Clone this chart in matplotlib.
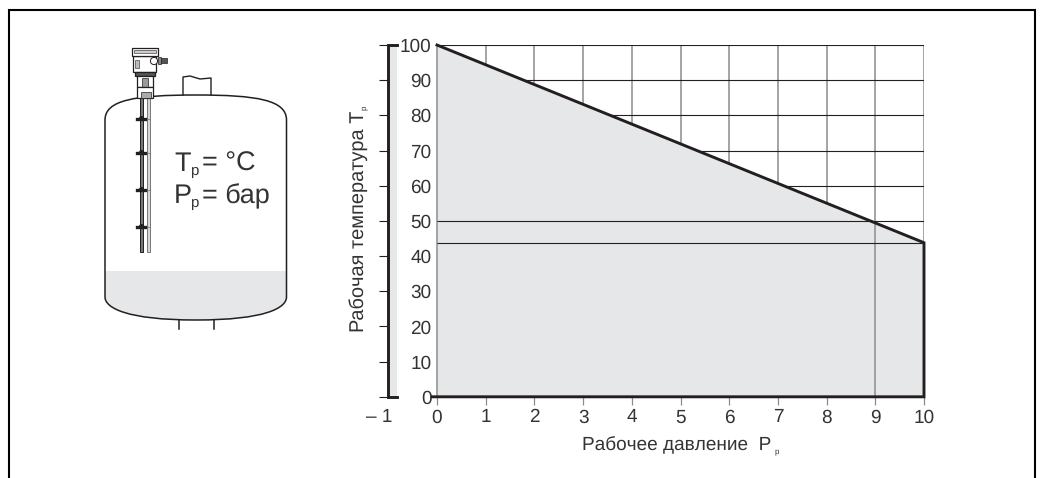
import matplotlib
matplotlib.use('Agg')
from matplotlib import pyplot as plt
from matplotlib.path import Path
from matplotlib.patches import PathPatch, Rectangle
from matplotlib.transforms import ScaledTranslation

plt.rcParams['font.family'] = ['Liberation Sans', 'DejaVu Sans']
plt.rcParams['text.hinting'] = 'none'
plt.rcParams['text.hinting_factor'] = 1

pressure_ticks = [-1, 0, 1, 2, 3, 4, 5, 6, 7, 8, 9, 10]
pressure_labels = ['– 1', '0', '1', '2', '3', '4', '5', '6', '7', '8', '9', '10']
temp_ticks = [0, 10, 20, 30, 40, 50, 60, 70, 80, 90, 100]
temp_labels = ['0', '10', '20', '30', '40', '50', '60', '70', '80', '90', '100']
limit_p = [0, 10]
limit_t = [100, 43.8]
grid_p = [1, 2, 3, 4, 5, 6, 7, 8, 9, 10]
grid_t = [60, 70, 80, 90, 100]
read_p = 9
read_t = [50, 43.8]

W, H = 1042, 478
DARK = '#231f20'
TEXT = '#333333'
GRID = '#8c8c8c'
FILL = '#e6e7e8'

fig = plt.figure(figsize=(W / 100, H / 100), dpi=100)

# the tank drawing and frame live in an overlay in pixel coordinates
bg = fig.add_axes([0, 0, 1, 1], zorder=0)
bg.set_xlim(0, W)
bg.set_ylim(H, 0)
bg.axis('off')

# frame, open at the bottom
bg.plot([9, 9, 1035, 1035], [478, 10, 10, 478], color='black', lw=1.5, solid_joinstyle='miter')

# liquid
liquid = Path([(105, 271), (286.5, 271), (286.5, 297), (286.5, 308), (265, 320), (196, 320),
               (127, 320), (105, 308), (105, 297), (105, 271)],
              [Path.MOVETO, Path.LINETO, Path.LINETO, Path.CURVE4, Path.CURVE4, Path.CURVE4,
               Path.CURVE4, Path.CURVE4, Path.CURVE4, Path.CLOSEPOLY])
bg.add_patch(PathPatch(liquid, fc=FILL, ec='none'))

# tank shell
shell = Path([(105, 297), (105, 120), (105, 100), (135, 95), (196, 95), (257, 95), (286.5, 100), (286.5, 120),
              (286.5, 297), (286.5, 308), (265, 320), (196, 320), (127, 320), (105, 308), (105, 297)],
             [Path.MOVETO, Path.LINETO, Path.CURVE4, Path.CURVE4, Path.CURVE4, Path.CURVE4, Path.CURVE4, Path.CURVE4,
              Path.LINETO, Path.CURVE4, Path.CURVE4, Path.CURVE4, Path.CURVE4, Path.CURVE4, Path.CURVE4])
bg.add_patch(PathPatch(shell, fc='none', ec=DARK, lw=1.1))

# nozzles
bg.plot([179, 179], [320, 329], color=DARK, lw=1.1)
bg.plot([213.5, 213.5], [320, 329], color=DARK, lw=1.1)
bg.plot([183, 183, 190, 200, 211, 211], [95, 77, 76, 79, 78, 95], color=DARK, lw=1.0)

# probe rods
bg.add_patch(Rectangle((139.5, 97), 3.5, 155, fc='#777777', ec=DARK, lw=0.7))
bg.add_patch(Rectangle((146.5, 97), 3, 155, fc='#d8d8d8', ec='#666666', lw=0.6))
for cy in [119, 153, 190, 227]:
    bg.plot([137, 145], [cy, cy], color=DARK, lw=2.4)
    bg.plot([141], [cy - 1.5], 'o', color=DARK, ms=2.6)
    bg.plot([147, 149], [cy, cy], color='#777777', lw=0.6)

# transmitter head
def box(x0, y0, x1, y1, fc='white', lw=0.9):
    bg.add_patch(Rectangle((x0, y0), x1 - x0, y1 - y0, fc=fc, ec=DARK, lw=lw, zorder=3))

box(133, 56, 156, 72)
box(132, 48, 158, 56)
box(134, 50, 156, 53, fc='#cccccc', lw=0.4)
box(135, 60, 139, 68, fc='#bbbbbb', lw=0.4)
box(135, 72, 155, 76, fc='#555555')
box(137, 76, 153, 87)
box(142, 78, 148, 87, fc='#999999', lw=0.5)
box(137, 87, 153, 98)
box(141, 92, 151, 98, fc='#aaaaaa', lw=0.5)
box(158, 57, 161, 64, fc='#888888', lw=0.5)
box(161, 58, 167, 63, fc='#555555', lw=0.5)
bg.add_patch(plt.Circle((154, 61), 3.6, fc='white', ec=DARK, lw=0.7, zorder=4))

# tank legend
bg.text(174, 171, 'T', fontsize=19.5, color=TEXT, va='baseline')
bg.text(190.5, 175, 'р', fontsize=10.5, color=TEXT, va='baseline')
bg.text(201.5, 171, '= °C', fontsize=19.5, color=TEXT, va='baseline')
bg.text(174, 203, 'P', fontsize=19.5, color=TEXT, va='baseline')
bg.text(190.5, 207, 'р', fontsize=10.5, color=TEXT, va='baseline')
bg.text(201.5, 203, '= бар', fontsize=19.5, color=TEXT, va='baseline')

# main chart, x -1..10 maps to 388..924, y 0..100 maps to 397..45
ax = fig.add_axes([388.3 / W, 1 - 396.8 / H, (924 - 388.3) / W, (396.8 - 45) / H], zorder=1)
ax.patch.set_alpha(0)
ax.set_xlim(-1, 10)
ax.set_ylim(0, 100)

ax.vlines(grid_p, 0, 100, color=GRID, lw=1.1, zorder=1)
ax.hlines(grid_t, 0, 10, color=DARK, lw=0.8, zorder=1)
ax.fill_between(limit_p, limit_t, 0, color=FILL, lw=0, zorder=2)
ax.axvspan(-1, -0.82, color=FILL, lw=0, zorder=2)
ax.vlines([0, read_p], 0, [100, 50], color=GRID, lw=1.1, zorder=3)
ax.hlines(read_t, 0, 10, color=DARK, lw=0.8, zorder=3)

ax.plot(limit_p + [10, -0.1], limit_t + [0, 0], color=DARK, lw=2.1, zorder=4,
        solid_joinstyle='miter', clip_on=False)
ax.plot([-0.82, -1, -1, -0.82], [100, 100, 0, 0], color=DARK, lw=2.1, zorder=4,
        solid_joinstyle='miter', clip_on=False)

for side in ['top', 'right', 'bottom', 'left']:
    ax.spines[side].set_visible(False)

ax.set_xticks(pressure_ticks)
ax.set_xticklabels(pressure_labels, fontsize=14, color=TEXT)
ax.set_yticks(temp_ticks)
ax.set_yticklabels(temp_labels, fontsize=14, color=TEXT)
ax.tick_params(axis='x', length=6, width=0.9, color=GRID, pad=2.5)
ax.tick_params(axis='y', length=6.5, width=0.8, color=DARK, pad=-37.5)

# no tick mark under -1 and its label sits left of the axis line
first = ax.xaxis.get_major_ticks()[0]
first.tick1line.set_visible(False)
ax.get_xticklabels()[0].set_transform(ax.get_xticklabels()[0].get_transform()
                                      + ScaledTranslation(-9 / 100, 0, fig.dpi_scale_trans))

# axis titles
bg.text(582, 450, 'Рабочее давление  P', fontsize=13.8, color=TEXT, va='baseline')
bg.text(774, 453.5, 'р', fontsize=5.5, color=TEXT, va='baseline')
bg.text(363.5, 332, 'Рабочая температура T', fontsize=14.2, color=TEXT, va='baseline', ha='left',
        rotation=90, rotation_mode='anchor')
bg.text(366, 110, 'р', fontsize=5.5, color=TEXT, va='baseline', ha='left',
        rotation=90, rotation_mode='anchor')

fig.savefig('out.png', dpi=100)
